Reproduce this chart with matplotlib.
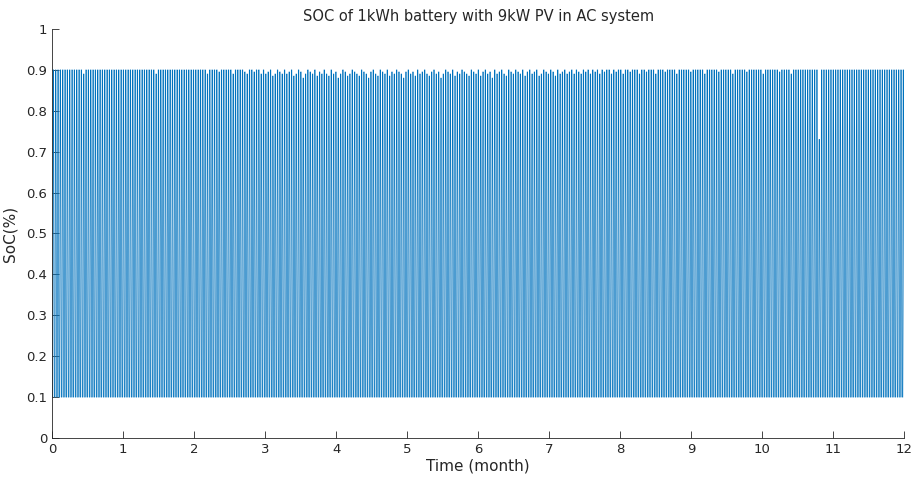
import numpy as np
import matplotlib
matplotlib.use("Agg")
import matplotlib.pyplot as plt

# ---- data ----
days_per_year = 365
months = 12
# daily maximum state of charge (fraction), one value per day
daily_peak = [
    0.90,0.90,0.90,0.90,0.90,0.90,0.90,0.90,0.90,0.90,
    0.90,0.90,0.90,0.89,0.90,0.90,0.90,0.90,0.90,0.90,
    0.90,0.90,0.90,0.90,0.90,0.90,0.90,0.90,0.90,0.90,
    0.90,0.90,0.90,0.90,0.90,0.90,0.90,0.90,0.90,0.90,
    0.90,0.90,0.90,0.90,0.89,0.90,0.90,0.90,0.90,0.90,
    0.90,0.90,0.90,0.90,0.90,0.90,0.90,0.90,0.90,0.90,
    0.90,0.90,0.90,0.90,0.90,0.90,0.89,0.90,0.90,0.90,
    0.90,0.895,0.90,0.90,0.90,0.90,0.90,0.89,0.90,0.90,
    0.90,0.90,0.895,0.89,0.90,0.90,0.895,0.90,0.90,0.89,
    0.90,0.89,0.895,0.90,0.885,0.89,0.90,0.895,0.89,0.90,
    0.89,0.895,0.90,0.885,0.89,0.90,0.895,0.88,0.89,0.90,
    0.895,0.89,0.90,0.885,0.895,0.89,0.90,0.89,0.885,0.90,
    0.89,0.895,0.88,0.89,0.90,0.895,0.885,0.89,0.90,0.895,
    0.89,0.885,0.90,0.895,0.89,0.88,0.895,0.90,0.89,0.885,
    0.90,0.895,0.89,0.90,0.885,0.895,0.89,0.90,0.895,0.89,
    0.88,0.895,0.90,0.89,0.895,0.885,0.90,0.89,0.895,0.90,
    0.89,0.885,0.895,0.90,0.89,0.895,0.88,0.89,0.90,0.895,
    0.89,0.90,0.885,0.895,0.89,0.90,0.895,0.89,0.885,0.90,
    0.895,0.89,0.90,0.885,0.895,0.90,0.89,0.895,0.88,0.90,
    0.89,0.895,0.90,0.89,0.885,0.90,0.895,0.89,0.90,0.895,
    0.89,0.90,0.885,0.895,0.90,0.89,0.895,0.90,0.885,0.89,
    0.90,0.895,0.89,0.90,0.895,0.885,0.90,0.89,0.895,0.90,
    0.89,0.895,0.90,0.89,0.90,0.895,0.89,0.90,0.895,0.90,
    0.89,0.90,0.895,0.90,0.89,0.90,0.895,0.90,0.90,0.89,
    0.90,0.895,0.90,0.90,0.89,0.90,0.90,0.895,0.90,0.90,
    0.90,0.89,0.90,0.90,0.895,0.90,0.90,0.90,0.89,0.90,
    0.90,0.90,0.895,0.90,0.90,0.90,0.90,0.89,0.90,0.90,
    0.90,0.90,0.90,0.895,0.90,0.90,0.90,0.90,0.90,0.89,
    0.90,0.90,0.90,0.90,0.90,0.895,0.90,0.90,0.90,0.90,
    0.90,0.89,0.90,0.90,0.90,0.90,0.90,0.895,0.90,0.90,
    0.90,0.90,0.90,0.90,0.89,0.90,0.90,0.90,0.90,0.90,
    0.90,0.895,0.90,0.90,0.90,0.90,0.89,0.90,0.90,0.90,
    0.90,0.90,0.90,0.90,0.90,0.90,0.90,0.90,0.73,0.90,
    0.90,0.90,0.90,0.90,0.90,0.90,0.90,0.90,0.90,0.90,
    0.90,0.90,0.90,0.90,0.90,0.90,0.90,0.90,0.90,0.90,
    0.90,0.90,0.90,0.90,0.90,0.90,0.90,0.90,0.90,0.90,
    0.90,0.90,0.90,0.90,0.90,
]
daily_min = 0.10
# typical hourly shape of a day's cycle (fraction of the day's swing)
hourly_profile = [0.0,0.0,0.0,0.0,0.0,0.0,0.0,0.0,0.25,0.7,1.0,1.0,
                  1.0,1.0,1.0,1.0,1.0,1.0,0.8,0.55,0.3,0.1,0.0,0.0]

xticks = list(range(0, 13))
yticks = [0, 0.1, 0.2, 0.3, 0.4, 0.5, 0.6, 0.7, 0.8, 0.9, 1]
ytick_labels = ["0", "0.1", "0.2", "0.3", "0.4", "0.5", "0.6", "0.7", "0.8", "0.9", "1"]

# ---- build series ----
peak = np.array(daily_peak)[:, None]
prof = np.array(hourly_profile)[None, :]
soc = (daily_min + (peak - daily_min) * prof).ravel()
hours = np.arange(soc.size)
t = hours / 24.0 / (days_per_year / months)

# ---- plot ----
plt.rcParams['font.family'] = ['DejaVu Sans']
fig = plt.figure(figsize=(9.15, 4.86), dpi=100)
ax = fig.add_axes([0.0568, 0.0988, 0.9315, 0.8415])
ax.plot(t, soc, color='#0072BD', linewidth=0.5)

axc = '#262626'
ax.set_xlim(0, 12)
ax.set_ylim(0, 1)
ax.set_xticks(xticks)
ax.set_yticks(yticks)
ax.set_yticklabels(ytick_labels)
ax.tick_params(direction='in', length=5, width=0.6, colors=axc, labelsize=9.5)
for s in ['top', 'right']:
    ax.spines[s].set_visible(False)
for s in ['left', 'bottom']:
    ax.spines[s].set_color(axc)
    ax.spines[s].set_linewidth(0.6)
ax.set_title('SOC of 1kWh battery with 9kW PV in AC system', fontsize=10.5, color=axc, pad=6)
ax.set_xlabel('Time (month)', fontsize=11, color=axc, labelpad=2)
ax.set_ylabel('SoC(%)', fontsize=11, color=axc, labelpad=6)

fig.savefig('out.png', dpi=100)
